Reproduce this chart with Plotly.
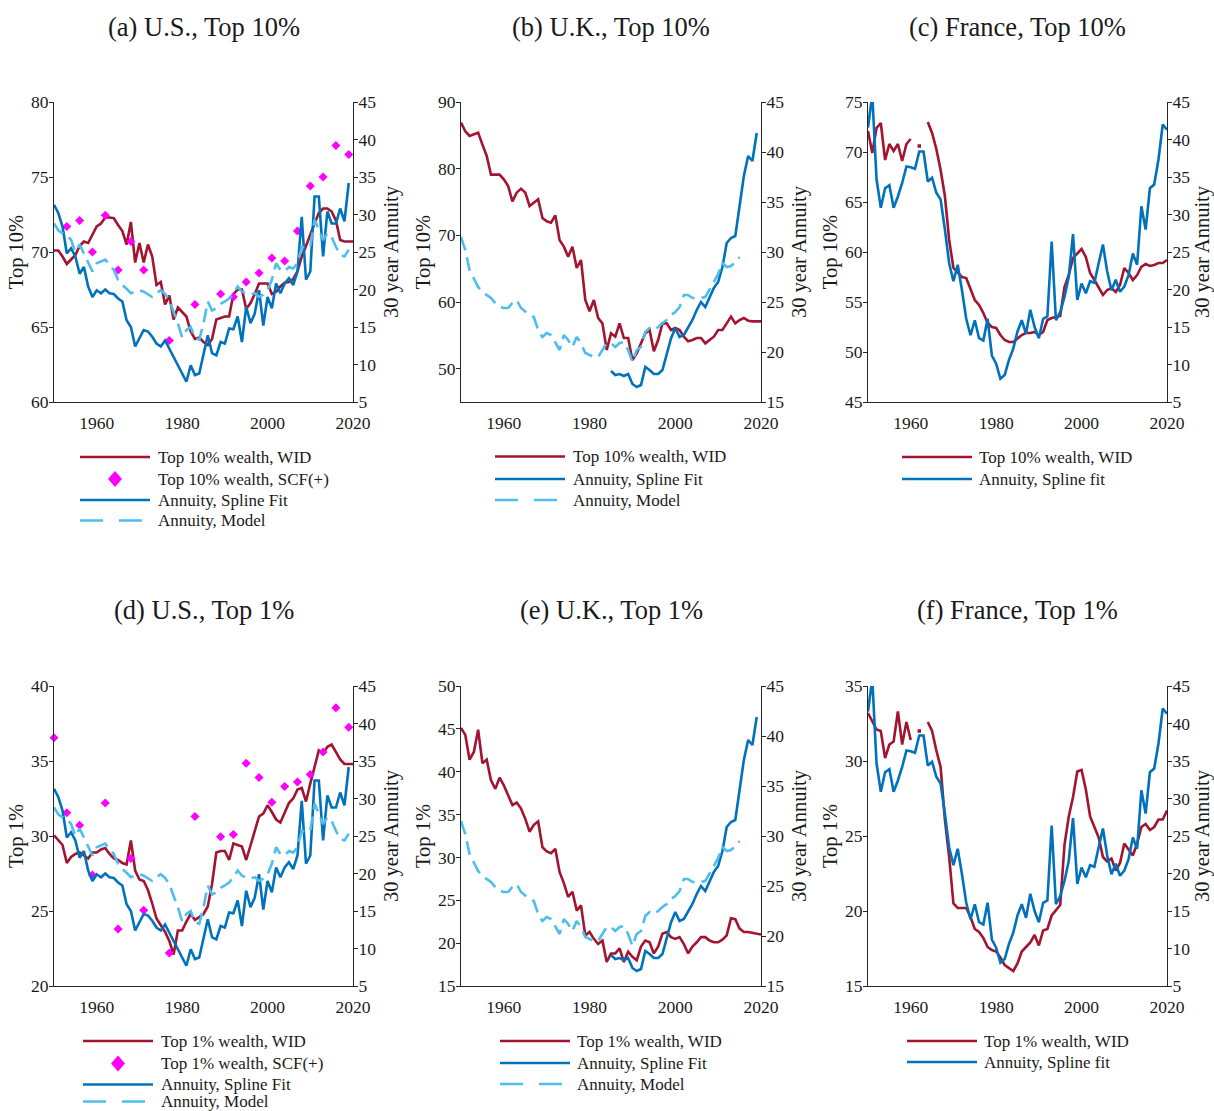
import plotly.graph_objects as go

# ---------------- data ----------------
X_TICKS = [1960, 1980, 2000, 2020]

# WID wealth shares, 1950-2020
us_top10_wid = [70.1, 70.1, 69.7, 69.2, 69.5, 69.8, 70.4, 70.7, 70.6, 71.2,
                71.7, 71.9, 72.3, 72.3, 72.25, 71.8, 71.4, 70.5, 72.0, 69.3,
                70.6, 69.3, 70.5, 69.7, 67.8, 68.0, 66.5, 67.1, 65.5, 66.3,
                66.0, 65.7, 64.7, 64.2, 64.3, 64.0, 63.8, 64.2, 65.5, 65.6,
                65.7, 65.7, 67.2, 67.5, 67.5, 66.2, 66.6, 67.2, 67.9, 67.9,
                67.9, 67.2, 67.35, 67.7, 67.95, 68.0, 68.2, 68.7, 69.7, 70.4,
                71.2, 71.9, 72.6, 72.9, 72.9, 72.7, 72.1, 70.8, 70.7, 70.7, 70.7]
us_top1_wid = [30.05, 29.7, 29.4, 28.2, 28.6, 28.8, 28.9, 28.7, 28.5, 28.9,
               28.9, 29.1, 29.2, 28.8, 28.5, 28.4, 28.2, 28.1, 29.7, 27.7,
               27.1, 27.0, 26.4, 25.5, 24.5, 24.05, 23.6, 23.0, 22.1, 23.7,
               23.7, 24.3, 24.8, 24.4, 24.6, 24.8, 25.3, 26.8, 28.9, 29.0,
               29.0, 28.4, 29.5, 29.4, 29.3, 28.4, 29.4, 30.3, 31.3, 31.5,
               32.05, 31.6, 31.1, 30.9, 31.5, 32.2, 32.5, 33.1, 33.2, 32.3,
               33.5, 34.6, 35.7, 35.5, 35.95, 36.1, 35.6, 35.1, 34.8, 34.8, 34.8]
uk_top10_wid = [86.9, 85.6, 84.9, 85.1, 85.4, 83.6, 81.9, 79.1, 79.1, 79.1,
                78.4, 77.4, 75.1, 76.4, 77.0, 76.4, 74.4, 74.9, 75.4, 72.6,
                72.1, 71.9, 73.0, 69.3, 68.3, 66.8, 68.3, 65.1, 66.3, 60.3,
                58.6, 60.3, 57.6, 56.8, 52.8, 55.3, 54.8, 56.8, 54.6, 54.6,
                51.3, 52.3, 53.8, 55.3, 55.8, 52.6, 54.3, 56.8, 56.8, 55.8,
                56.1, 55.8, 54.8, 54.1, 54.3, 54.6, 54.6, 53.8, 54.3, 54.8,
                55.8, 55.8, 56.8, 57.8, 56.8, 57.3, 57.6, 57.2, 57.1, 57.1, 57.1]
uk_top1_wid = [45.1, 44.3, 41.4, 42.3, 44.9, 41.0, 41.4, 39.0, 38.0, 39.3,
               38.4, 37.3, 36.1, 36.4, 35.7, 34.5, 33.0, 33.8, 34.2, 31.2,
               30.7, 30.5, 31.0, 28.3, 27.0, 25.4, 26.0, 23.8, 24.4, 20.9,
               21.3, 20.5, 19.9, 20.3, 17.8, 18.8, 18.8, 19.4, 17.8, 19.0,
               18.4, 18.0, 19.6, 20.3, 20.1, 18.8, 19.6, 21.1, 21.3, 20.7,
               20.5, 20.7, 19.9, 18.8, 19.6, 20.1, 20.7, 20.7, 20.3, 20.1,
               20.1, 20.4, 20.9, 22.9, 22.8, 21.7, 21.3, 21.3, 21.2, 21.1, 21.0]
fr_top10_wid = [72.1, 69.9, 72.4, 72.9, 69.2, 70.8, 70.1, 70.8, 69.1, 70.8,
                71.3, None, 70.6, None, 73.0, 71.9, 70.3, 68.2, 65.6, 61.2,
                58.4, 57.9, 57.5, 57.4, 56.2, 55.2, 54.7, 53.9, 52.9, 52.5,
                52.4, 51.7, 51.2, 51.0, 51.0, 51.4, 51.7, 51.9, 51.9, 52.0,
                51.7, 52.0, 53.2, 53.4, 53.5, 53.6, 56.5, 57.7, 59.4, 59.9,
                60.3, 59.5, 57.9, 57.2, 56.4, 55.7, 56.2, 56.4, 56.0, 56.7,
                58.4, 57.9, 57.2, 57.7, 58.5, 58.8, 58.6, 58.7, 58.9, 58.9, 59.2]
fr_top1_wid = [33.2, 32.7, 32.1, 32.0, 30.2, 31.1, 31.3, 33.3, 31.1, 32.6,
               31.4, None, 32.0, None, 32.6, 32.0, 30.7, 29.6, 26.1, 23.6,
               20.5, 20.2, 20.2, 20.2, 19.6, 18.8, 18.6, 18.2, 17.6, 17.4,
               17.3, 16.9, 16.4, 16.2, 16.0, 16.5, 17.3, 17.6, 17.9, 18.4,
               17.7, 18.7, 18.8, 19.7, 20.05, 20.4, 24.4, 26.3, 27.6, 29.3,
               29.4, 28.1, 26.3, 25.6, 24.9, 23.6, 23.3, 23.5, 22.7, 23.2,
               24.5, 24.1, 23.7, 24.5, 25.6, 25.8, 25.4, 25.6, 26.1, 26.1, 26.7]
WID_START = 1950

# SCF(+) survey points
scf_years = [1950, 1953, 1956, 1959, 1962, 1965, 1968, 1971, 1977, 1983, 1989,
             1992, 1995, 1998, 2001, 2004, 2007, 2010, 2013, 2016, 2019]
us_top10_scf = [None, 71.7, 72.1, 70.0, 72.45, 68.8, 70.7, 68.8, 64.1, 66.5, 67.2,
                67.0, 68.0, 68.6, 69.6, 69.4, 71.4, 74.4, 75.0, 77.1, 76.5]
us_top1_scf = [36.55, 31.55, 30.72, 27.4, 32.2, 23.8, 28.5, 25.05, 22.2, 31.3, 29.95,
               30.1, 34.85, 33.9, 32.25, 33.3, 33.6, 34.1, 35.6, 38.55, 37.25]

# 30 year annuity: spline fit and model
us_spline_start = 1950
us_spline = [31.3, 30.2, 28.4, 24.8, 25.5, 24.4, 22.1, 23.0, 20.4, 19.0,
             19.9, 19.5, 20.0, 19.5, 19.4, 18.8, 18.4, 15.9, 15.0, 12.4,
             13.5, 14.6, 14.4, 13.7, 12.8, 12.4, 13.2, 12.1, 11.0, 10.1,
             8.8, 7.7, 9.9, 8.6, 8.8, 11.5, 13.9, 11.5, 11.2, 13.0,
             12.8, 14.8, 14.7, 16.4, 13.0, 17.7, 15.5, 16.8, 19.9, 15.2,
             19.0, 17.5, 20.8, 19.5, 20.8, 21.5, 20.6, 22.4, 29.7, 21.3,
             22.4, 32.4, 32.4, 24.4, 30.4, 28.8, 28.8, 30.8, 29.1, 34.2]
us_model_start = 1950
us_model = [28.8, 27.9, 27.5, 27.3, 26.6, 25.0, 26.0, 24.8, 23.5, 22.4,
            23.5, 23.7, 24.0, 23.3, 22.6, 21.3, 20.6, 20.1, 19.5, 19.7,
            19.9, 19.7, 19.4, 19.0, 19.5, 19.9, 19.4, 18.6, 17.0, 15.5,
            13.6, 14.6, 15.0, 13.5, 13.3, 15.5, 18.4, 17.2, 17.5, 18.1,
            18.4, 18.8, 19.5, 20.4, 19.7, 19.5, 19.3, 19.5, 19.0, 19.3,
            19.9, 21.3, 23.5, 22.6, 22.4, 23.0, 22.8, 23.5, 25.7, 25.5,
            25.7, 29.3, 27.9, 26.6, 27.5, 27.0, 25.7, 24.6, 24.4, 25.3]
uk_spline_start = 1985
uk_spline = [18.1, 17.7, 17.8, 17.6, 17.8, 16.8, 16.5, 16.7, 18.5, 18.2,
             17.8, 17.8, 18.2, 19.85, 21.35, 22.4, 21.5, 21.7, 22.4, 23.2,
             24.2, 25.0, 24.5, 25.5, 26.4, 27.0, 28.5, 30.9, 31.4, 31.6,
             34.6, 37.6, 39.6, 39.1, 41.9]
uk_model_start = 1950
uk_model = [31.5, 30.2, 28.2, 27.4, 26.5, 26.0, 25.7, 25.4, 24.9, 24.5,
            24.4, 24.4, 24.9, 25.2, 24.4, 24.0, 23.7, 23.5, 22.2, 21.5,
            21.9, 21.7, 20.9, 20.2, 21.7, 21.2, 20.5, 21.5, 20.9, 19.9,
            19.7, 19.5, 19.5, 20.2, 20.9, 20.9, 20.5, 20.9, 21.0, 20.2,
            19.0, 20.2, 20.5, 22.0, 22.4, 22.2, 22.5, 22.9, 23.2, 23.7,
            24.0, 24.5, 25.7, 25.7, 25.4, 25.4, 25.4, 25.5, 26.2, 27.0,
            27.8, 28.9, 28.5, 28.6, 29.0, 29.5]
fr_spline_start = 1950
fr_spline = [41.6, 46.0, 34.7, 30.9, 33.5, 33.9, 30.9, 32.4, 34.2, 36.4,
             36.3, 36.1, 38.4, 38.4, 34.4, 34.9, 32.9, 32.0, 28.0, 23.5,
             21.1, 23.3, 19.9, 16.1, 13.9, 15.9, 13.5, 13.2, 16.1, 11.2,
             10.1, 8.1, 8.6, 10.6, 12.1, 14.4, 15.9, 14.1, 17.3, 15.0,
             13.5, 16.1, 16.4, 26.4, 15.9, 17.0, 19.0, 21.7, 27.4, 18.6,
             20.8, 19.5, 21.1, 20.9, 23.5, 26.0, 22.4, 19.9, 21.3, 19.7,
             20.4, 21.9, 24.8, 23.3, 31.1, 28.0, 33.5, 34.0, 37.3, 42.0, 41.3]

# ---------------- styling / layout ----------------
W, H = 1214, 1111
RED, BLUE, LBLUE, MAG = "#A2142F", "#0072BD", "#4DBEEE", "#FF00FF"
FONT = "Liberation Serif, Times New Roman, serif"
AX = "#262626"
TXT = "#1a1a1a"

COLS = [(54, 353), (461, 761), (868, 1167)]
ROWS = [(102, 402), (686, 986)]


def px(x):
    return x / W


def py(y):
    return 1 - y / H


def yrs(start, vals):
    return list(range(start, start + len(vals)))


panels = [
    dict(title="(a) U.S., Top 10%", wid=us_top10_wid, scf=us_top10_scf, ytitle="Top 10%",
         lrange=[60, 80], ldtick=5, rrange=[5, 45], spline=(us_spline_start, us_spline),
         model=(us_model_start, us_model),
         legend=["Top 10% wealth, WID", "Top 10% wealth, SCF(+)", "Annuity, Spline Fit", "Annuity, Model"],
         leg=(80, 150, 156, [457, 479, 500, 520.5])),
    dict(title="(b) U.K., Top 10%", wid=uk_top10_wid, scf=None, ytitle="Top 10%",
         lrange=[45, 90], ldtick=10, ltick0=50, rrange=[15, 45], spline=(uk_spline_start, uk_spline),
         model=(uk_model_start, uk_model),
         legend=["Top 10% wealth, WID", "Annuity, Spline Fit", "Annuity, Model"],
         leg=(495, 565, 571, [456.5, 479, 500])),
    dict(title="(c) France, Top 10%", wid=fr_top10_wid, scf=None, ytitle="Top 10%",
         lrange=[45, 75], ldtick=5, rrange=[5, 45], spline=(fr_spline_start, fr_spline),
         model=None,
         legend=["Top 10% wealth, WID", "Annuity, Spline fit"],
         leg=(902, 972, 977, [457, 479])),
    dict(title="(d) U.S., Top 1%", wid=us_top1_wid, scf=us_top1_scf, ytitle="Top 1%",
         lrange=[20, 40], ldtick=5, rrange=[5, 45], spline=(us_spline_start, us_spline),
         model=(us_model_start, us_model),
         legend=["Top 1% wealth, WID", "Top 1% wealth, SCF(+)", "Annuity, Spline Fit", "Annuity, Model"],
         leg=(83, 153, 159, [1041, 1063.5, 1084.5, 1101.5])),
    dict(title="(e) U.K., Top 1%", wid=uk_top1_wid, scf=None, ytitle="Top 1%",
         lrange=[15, 50], ldtick=5, rrange=[15, 45], spline=(uk_spline_start, uk_spline),
         model=(uk_model_start, uk_model),
         legend=["Top 1% wealth, WID", "Annuity, Spline Fit", "Annuity, Model"],
         leg=(500, 570, 575, [1041, 1063, 1084])),
    dict(title="(f) France, Top 1%", wid=fr_top1_wid, scf=None, ytitle="Top 1%",
         lrange=[15, 35], ldtick=5, rrange=[5, 45], spline=(fr_spline_start, fr_spline),
         model=None,
         legend=["Top 1% wealth, WID", "Annuity, Spline fit"],
         leg=(907, 977, 982, [1041, 1062])),
]

fig = go.Figure()
layout = dict(width=W, height=H, margin=dict(l=0, r=0, t=0, b=0, autoexpand=False),
              paper_bgcolor="white", plot_bgcolor="white", showlegend=False,
              font=dict(family=FONT, size=17, color=TXT))
shapes, annotations = [], []

for i, p in enumerate(panels, start=1):
    xa = "x" if i == 1 else f"x{i}"
    nl, nr = 2 * i - 1, 2 * i
    yl = "y" if nl == 1 else f"y{nl}"
    yr = f"y{nr}"
    c0, c1 = COLS[(i - 1) % 3]
    r0, r1 = ROWS[(i - 1) // 3]
    dom_y = [py(r1), py(r0)]

    layout["xaxis" if i == 1 else f"xaxis{i}"] = dict(
        domain=[px(c0), px(c1)], anchor=yl, range=[1950, 2020], tickvals=X_TICKS,
        showline=True, linecolor=AX, linewidth=1.2, ticks="", ticklabelstandoff=5,
        showgrid=False, zeroline=False, tickfont=dict(size=17.5), fixedrange=True)
    layout["yaxis" if nl == 1 else f"yaxis{nl}"] = dict(
        domain=dom_y, anchor=xa, range=p["lrange"], dtick=p["ldtick"],
        tick0=p.get("ltick0", p["lrange"][0]),
        showline=True, linecolor=AX, linewidth=1.2, ticks="outside", ticklen=4,
        ticklabelstandoff=-3,
        tickcolor=AX, showgrid=False, zeroline=False, tickfont=dict(size=17.5),
        title=dict(text=p["ytitle"], font=dict(size=20.5), standoff=1))
    layout[f"yaxis{nr}"] = dict(
        domain=dom_y, anchor=xa, overlaying=yl, side="right", range=p["rrange"], dtick=5,
        showline=True, linecolor=AX, linewidth=1.2, ticks="outside", ticklen=4,
        ticklabelstandoff=-3,
        tickcolor=AX, showgrid=False, zeroline=False, tickfont=dict(size=17.5),
        title=dict(text="30 year Annuity", font=dict(size=20.5), standoff=8))

    # left axis: WID line
    wx = yrs(WID_START, p["wid"])
    fig.add_trace(go.Scatter(x=wx, y=p["wid"], mode="lines", xaxis=xa, yaxis=yl,
                             line=dict(color=RED, width=2.6), connectgaps=False))
    # isolated WID points (both neighbours missing)
    iso_x, iso_y = [], []
    for k, v in enumerate(p["wid"]):
        if v is None:
            continue
        prev_none = k == 0 or p["wid"][k - 1] is None
        next_none = k == len(p["wid"]) - 1 or p["wid"][k + 1] is None
        if prev_none and next_none:
            iso_x.append(wx[k]); iso_y.append(v)
    if iso_x:
        fig.add_trace(go.Scatter(x=iso_x, y=iso_y, mode="markers", xaxis=xa, yaxis=yl,
                                 marker=dict(color=RED, size=3.5, symbol="square")))
    # left axis: SCF points
    if p["scf"] is not None:
        fig.add_trace(go.Scatter(x=scf_years, y=p["scf"], mode="markers", xaxis=xa, yaxis=yl,
                                 marker=dict(color=MAG, size=7, symbol="diamond",
                                             line=dict(width=0)), cliponaxis=False))
    # right axis: annuity spline and model
    s0, sv = p["spline"]
    fig.add_trace(go.Scatter(x=yrs(s0, sv), y=sv, mode="lines", xaxis=xa, yaxis=yr,
                             line=dict(color=BLUE, width=2.6)))
    if p["model"] is not None:
        m0, mv = p["model"]
        fig.add_trace(go.Scatter(x=yrs(m0, mv), y=mv, mode="lines", xaxis=xa, yaxis=yr,
                                 line=dict(color=LBLUE, width=2.6, dash="14px,7px")))

    # panel title
    annotations.append(dict(text=p["title"], x=px((c0 + c1) / 2), y=py(27 if i <= 3 else 610),
                            xref="paper", yref="paper", xanchor="center", yanchor="middle",
                            showarrow=False, font=dict(size=26.5, color=TXT)))

    # manual legend
    lx0, lx1, tx, rows_y = p["leg"]
    for lab, ly in zip(p["legend"], rows_y):
        if "WID" in lab:
            shapes.append(dict(type="line", xref="paper", yref="paper", x0=px(lx0), x1=px(lx1),
                               y0=py(ly), y1=py(ly), line=dict(color=RED, width=2.6)))
        elif "Spline" in lab:
            shapes.append(dict(type="line", xref="paper", yref="paper", x0=px(lx0), x1=px(lx1),
                               y0=py(ly), y1=py(ly), line=dict(color=BLUE, width=2.6)))
        elif "Model" in lab:
            shapes.append(dict(type="line", xref="paper", yref="paper", x0=px(lx0), x1=px(lx0 + 62),
                               y0=py(ly), y1=py(ly), line=dict(color=LBLUE, width=2.6, dash="23px,16px")))
        else:
            cx = (lx0 + lx1) / 2
            path = (f"M {px(cx)},{py(ly - 8)} L {px(cx + 7)},{py(ly)} "
                    f"L {px(cx)},{py(ly + 8)} L {px(cx - 7)},{py(ly)} Z")
            shapes.append(dict(type="path", xref="paper", yref="paper", path=path,
                               fillcolor=MAG, line=dict(color=MAG, width=0)))
        annotations.append(dict(text=lab, x=px(tx), y=py(ly), xref="paper", yref="paper",
                                xanchor="left", yanchor="middle", showarrow=False,
                                font=dict(size=17, color=TXT)))

layout["shapes"] = shapes
layout["annotations"] = annotations
fig.update_layout(**layout)

# remove the default page margin so the figure maps 1:1 onto the window
fig.write_html("out.html",
               post_script="document.body.style.margin='0';"
                           "document.documentElement.style.overflow='hidden';"
                           "document.body.style.overflow='hidden';")
